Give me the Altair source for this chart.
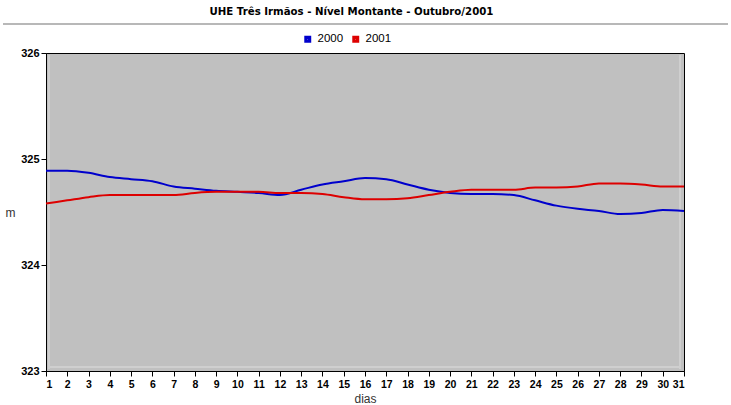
import altair as alt
import pandas as pd

TITLE = "UHE Três Irmãos - Nível Montante - Outubro/2001"
dias = list(range(1, 32))
nivel_2000 = [324.89, 324.89, 324.87, 324.83, 324.81, 324.79, 324.74, 324.72, 324.70, 324.69,
              324.68, 324.66, 324.71, 324.76, 324.79, 324.82, 324.81, 324.76, 324.71, 324.68,
              324.67, 324.67, 324.66, 324.61, 324.56, 324.53, 324.51, 324.48, 324.49, 324.52,
              324.51]
nivel_2001 = [324.58, 324.61, 324.64, 324.66, 324.66, 324.66, 324.66, 324.68, 324.69, 324.69,
              324.69, 324.68, 324.68, 324.67, 324.64, 324.62, 324.62, 324.63, 324.66, 324.69,
              324.71, 324.71, 324.71, 324.73, 324.73, 324.74, 324.77, 324.77, 324.76, 324.74,
              324.74]
series = ["2000", "2001"]
colors = ["#0000CC", "#DD0000"]
y_ticks = [323, 324, 325, 326]

W, H = 638, 318

df = pd.concat([
    pd.DataFrame({"dia": dias, "nivel": nivel_2000, "ano": "2000"}),
    pd.DataFrame({"dia": dias, "nivel": nivel_2001, "ano": "2001"}),
])

x_enc = alt.X("dia:Q",
              scale=alt.Scale(domain=[1, 31], nice=False, zero=False),
              axis=alt.Axis(values=dias, format="d", title="dias", grid=False,
                            labelOverlap=False,
                            labelFont="Liberation Sans", labelFontWeight="bold", labelFontSize=10.5,
                            labelColor="#000000", labelPadding=3,
                            tickSize=5, tickColor="#000000", domainColor="#000000",
                            titleFont="Liberation Sans", titleFontWeight="normal", titleFontSize=12,
                            titleColor="#333333", titlePadding=4))
y_enc = alt.Y("nivel:Q",
              scale=alt.Scale(domain=[323, 326], nice=False, zero=False),
              axis=alt.Axis(values=y_ticks, format="d", title="m", grid=False,
                            labelOverlap=False,
                            labelFont="Liberation Sans", labelFontWeight="bold", labelFontSize=11,
                            labelColor="#000000", labelPadding=2,
                            tickSize=5, tickColor="#000000", domainColor="#000000",
                            titleFont="Liberation Sans", titleFontWeight="normal", titleFontSize=12,
                            titleColor="#333333", titleAngle=0, titleX=-36, titleY=H / 2,
                            titleAlign="center", titleBaseline="middle"))

lines = alt.Chart(df).mark_line(strokeWidth=2, interpolate="monotone").encode(
    x=x_enc, y=y_enc,
    color=alt.Color("ano:N", scale=alt.Scale(domain=series, range=colors),
                    legend=alt.Legend(title=None, orient="none", direction="horizontal",
                                      legendX=256, legendY=-20,
                                      symbolType="square", symbolSize=14,
                                      symbolStrokeWidth=3.2,
                                      labelFont="Liberation Sans", labelFontSize=11.5,
                                      labelColor="#000000", labelOffset=4, columnPadding=3)),
)

title_df = pd.DataFrame({"t": [TITLE]})
title = alt.Chart(title_df).mark_text(
    font="DejaVu Sans", fontWeight="bold", fontSize=10.2, color="#000000",
    align="center", baseline="middle"
).encode(text="t:N", x=alt.value(305.5), y=alt.value(-41))

sep = alt.Chart(title_df).mark_rule(color="#A0A0A0", strokeWidth=1.5).encode(
    x=alt.value(-43), x2=alt.value(682), y=alt.value(-29)
)

inner_l = alt.Chart(title_df).mark_rule(color="#CFCFCF", strokeWidth=2).encode(
    x=alt.value(3), y=alt.value(2), y2=alt.value(H - 2)
)
inner_r = alt.Chart(title_df).mark_rule(color="#CFCFCF", strokeWidth=2).encode(
    x=alt.value(W - 4), y=alt.value(2), y2=alt.value(H - 2)
)
inner_b = alt.Chart(title_df).mark_rule(color="#CFCFCF", strokeWidth=2).encode(
    x=alt.value(3), x2=alt.value(W - 4), y=alt.value(H - 4)
)

chart = alt.layer(inner_l, inner_r, inner_b, lines, title, sep).properties(
    width=W, height=H,
    autosize=alt.AutoSizeParams(type="none"),
    padding={"left": 46, "top": 53, "right": 47, "bottom": 34},
    background="#FFFFFF",
).configure_view(
    fill="#C0C0C0", stroke="#000000", strokeWidth=1
)

chart.save("out.html", embed_options={"renderer": "svg", "actions": False})
